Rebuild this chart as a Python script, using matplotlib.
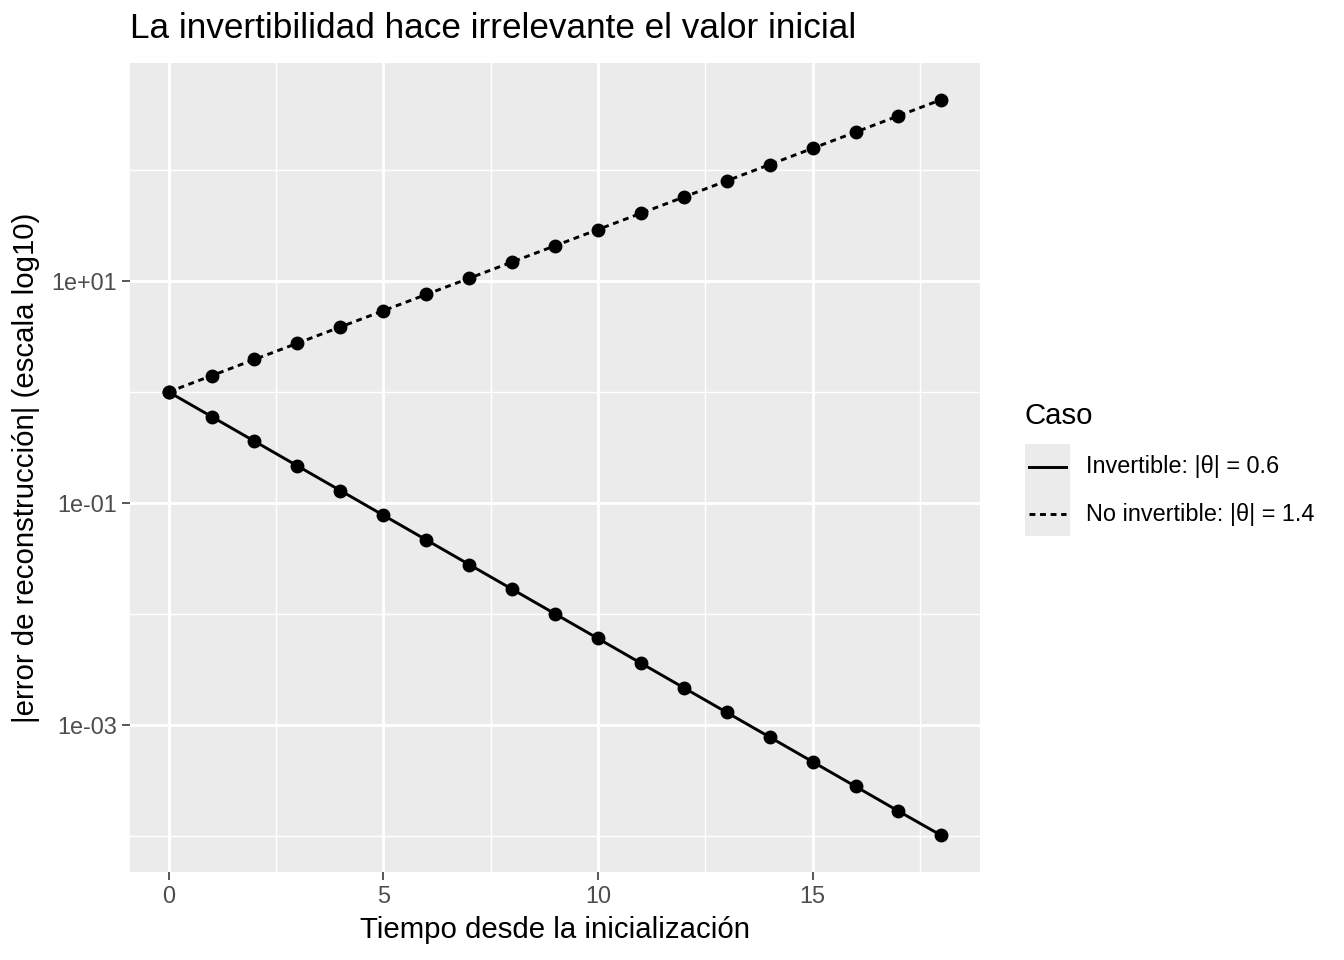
import matplotlib
matplotlib.use("Agg")
import matplotlib.pyplot as plt
from matplotlib.lines import Line2D
from matplotlib.patches import Rectangle
from matplotlib.ticker import FixedLocator, FixedFormatter

plt.rcParams['font.family'] = ['Liberation Sans', 'DejaVu Sans']

# data
tiempo = list(range(19))
err_invertible = [1.0, 0.6, 0.36, 0.216, 0.1296, 0.07776, 0.04666, 0.02799, 0.0168,
                  0.01008, 0.006047, 0.003628, 0.002177, 0.001306, 0.000784,
                  0.00047, 0.000282, 0.000169, 0.000102]
err_no_invertible = [1.0, 1.4, 1.96, 2.744, 3.842, 5.378, 7.530, 10.54, 14.76, 20.66,
                     28.93, 40.50, 56.69, 79.37, 111.1, 155.6, 217.8, 304.9, 426.9]
labels_caso = ['Invertible: |θ| = 0.6', 'No invertible: |θ| = 1.4']
y_breaks = [1e-3, 1e-1, 1e1]
y_labels = ['1e-03', '1e-01', '1e+01']
y_minor = [1e-4, 1e-2, 1e0, 1e2]
x_breaks = [0, 5, 10, 15]
x_minor = [2.5, 7.5, 12.5, 17.5]

W, H = 1344, 960
fig = plt.figure(figsize=(7, 5), dpi=192)
ax = fig.add_axes([130 / W, 1 - 872 / H, (980 - 130) / W, (872 - 63) / H])
ax.set_facecolor('#EBEBEB')
for s in ax.spines.values():
    s.set_visible(False)

ax.set_yscale('log')
ax.set_xlim(-0.9, 18.9)
ax.set_ylim(10 ** -4.32, 10 ** 2.96)

# grid
for v in y_minor:
    ax.axhline(v, color='white', lw=0.55, zorder=0)
for v in x_minor:
    ax.axvline(v, color='white', lw=0.55, zorder=0)
for v in y_breaks:
    ax.axhline(v, color='white', lw=1.1, zorder=0)
for v in x_breaks:
    ax.axvline(v, color='white', lw=1.1, zorder=0)

dot_style = (0, (2, 1.6))
ax.plot(tiempo, err_invertible, color='black', lw=1.1, zorder=2)
ax.plot(tiempo, err_no_invertible, color='black', lw=1.1, ls=dot_style, zorder=2)
ax.plot(tiempo, err_invertible, 'o', color='black', ms=4.2, zorder=3)
ax.plot(tiempo, err_no_invertible, 'o', color='black', ms=4.2, zorder=3)

ax.yaxis.set_major_locator(FixedLocator(y_breaks))
ax.yaxis.set_major_formatter(FixedFormatter(y_labels))
ax.yaxis.set_minor_locator(FixedLocator([]))
ax.set_xticks(x_breaks)
ax.tick_params(axis='both', length=3, width=0.6, color='#333333',
               labelcolor='#4D4D4D', labelsize=8.8, pad=2)

ax.set_xlabel('Tiempo desde la inicialización', fontsize=11, labelpad=3)
ax.set_ylabel('|error de reconstrucción| (escala log10)', fontsize=11, labelpad=4)
fig.text(130 / W, 1 - 28 / H, 'La invertibilidad hace irrelevante el valor inicial',
         fontsize=13.2, ha='left', va='center')

# legend
fig.text(1025 / W, 1 - 416 / H, 'Caso', fontsize=11, ha='left', va='center')
fig.add_artist(Rectangle((1025 / W, 1 - 536 / H), 45 / W, 92 / H,
                         transform=fig.transFigure, facecolor='#EBEBEB',
                         edgecolor='none'))
key_y = [467, 514]
key_ls = ['-', dot_style]
for lab, yy, ls in zip(labels_caso, key_y, key_ls):
    fig.add_artist(Line2D([1029 / W, 1066 / W], [1 - yy / H, 1 - yy / H],
                          transform=fig.transFigure, color='black', lw=1.1, ls=ls))
    fig.text(1086 / W, 1 - yy / H, lab, fontsize=8.8, ha='left', va='center')

fig.savefig('out.png', dpi=192)
